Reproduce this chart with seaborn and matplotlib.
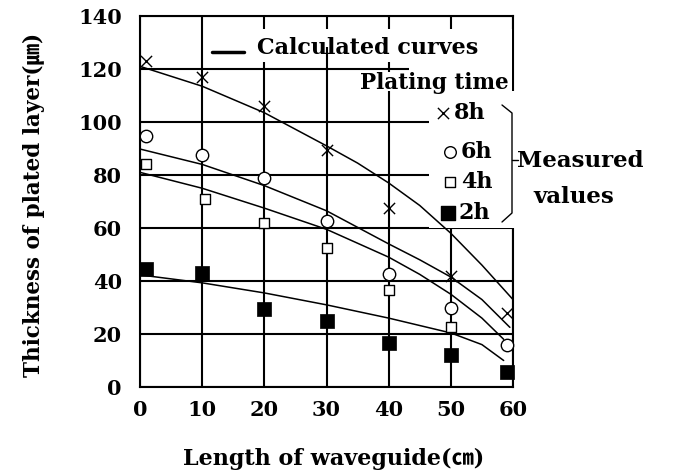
import numpy as np
import pandas as pd
import matplotlib
matplotlib.use("Agg")
import matplotlib.pyplot as plt
from matplotlib.patches import Rectangle
from matplotlib.lines import Line2D
import seaborn as sns

# ---------------- data ----------------
x_meas = [1, 10, 20, 30, 40, 50, 59]
meas_8h = [123, 117, 106, 89.5, 67.5, 42, 28]
meas_6h = [94.7, 87.5, 79, 62.6, 42.6, 30, 16]
x_meas_4h = [1, 10.5, 20, 30, 40, 50]
meas_4h = [84, 71, 62, 52.5, 36.6, 22.6]
meas_2h = [44.5, 43, 29.4, 25, 16.6, 12, 5.7]

x_calc_8h = [0, 10, 20, 30, 35, 40, 45, 50, 55, 60]
calc_8h = [121, 113.5, 103.5, 91, 84.5, 77, 68.5, 58, 46, 33]
x_calc_6h = [0, 10, 20, 30, 40, 45, 50, 55, 59.5]
calc_6h = [89.8, 84, 76, 66.5, 54, 48, 41.5, 33, 22.5]
x_calc_4h = [0, 10, 20, 30, 40, 45, 50, 55, 58.5]
calc_4h = [81, 75, 67.5, 59.5, 49, 42.5, 35, 26, 18]
x_calc_2h = [0, 10, 20, 30, 40, 50, 55, 58.5]
calc_2h = [42.3, 39.3, 35.5, 31, 26, 20.4, 16, 10]

x_ticks = [0, 10, 20, 30, 40, 50, 60]
y_ticks = [0, 20, 40, 60, 80, 100, 120, 140]
series_labels = ["8h", "6h", "4h", "2h"]

# ---------------- style ----------------
sns.set_style("white")
FAM = ["DejaVu Serif", "Noto Sans CJK SC", "DejaVu Sans"]
plt.rcParams["font.family"] = FAM
plt.rcParams["font.weight"] = "bold"
for k in ["text.color", "axes.labelcolor", "xtick.color", "ytick.color",
          "axes.edgecolor"]:
    plt.rcParams[k] = "black"

W, H = 676, 474
fig = plt.figure(figsize=(W / 100, H / 100), dpi=100)
ax = fig.add_axes([140 / W, 1 - 387 / H, 373 / W, 371 / H])

def fp(px, py):
    return (px / W, 1 - py / H)

def white_box(x0, y0, x1, y1):
    ax.add_patch(Rectangle((x0 / W, 1 - y1 / H), (x1 - x0) / W, (y1 - y0) / H,
                           transform=fig.transFigure, facecolor="white",
                           edgecolor="none", zorder=3, clip_on=False))

# calculated curves
calc = pd.concat([
    pd.DataFrame({"x": x_calc_8h, "y": calc_8h, "s": "8h"}),
    pd.DataFrame({"x": x_calc_6h, "y": calc_6h, "s": "6h"}),
    pd.DataFrame({"x": x_calc_4h, "y": calc_4h, "s": "4h"}),
    pd.DataFrame({"x": x_calc_2h, "y": calc_2h, "s": "2h"}),
])
sns.lineplot(data=calc, x="x", y="y", units="s", estimator=None, color="black",
             lw=1.1, ax=ax, zorder=4, legend=False, sort=False)

# measured points
m8 = pd.DataFrame({"x": x_meas, "y": meas_8h})
m6 = pd.DataFrame({"x": x_meas, "y": meas_6h})
m4 = pd.DataFrame({"x": x_meas_4h, "y": meas_4h})
m2 = pd.DataFrame({"x": x_meas, "y": meas_2h})
sns.scatterplot(data=m8, x="x", y="y", marker="x", s=65, color="black",
                linewidth=1.0, ax=ax, zorder=5, clip_on=False)
sns.scatterplot(data=m6, x="x", y="y", marker="o", s=80, facecolor="white",
                edgecolor="black", linewidth=1.0, ax=ax, zorder=5, clip_on=False)
sns.scatterplot(data=m4, x="x", y="y", marker="s", s=60, facecolor="white",
                edgecolor="black", linewidth=1.0, ax=ax, zorder=5, clip_on=False)
sns.scatterplot(data=m2, x="x", y="y", marker="s", s=90, color="black",
                edgecolor="black", linewidth=0.5, ax=ax, zorder=5, clip_on=False)

ax.set_xlim(0, 60)
ax.set_ylim(0, 140)
ax.set_xticks(x_ticks)
ax.set_yticks(y_ticks)
ax.set_axisbelow(True)
ax.grid(True, color="black", lw=1.5)
for sp in ax.spines.values():
    sp.set_color("black")
    sp.set_linewidth(1.5)
ax.tick_params(axis="both", length=0, labelsize=15, colors="black")
ax.tick_params(axis="y", pad=13)
ax.tick_params(axis="x", pad=9)
for lab in ax.get_xticklabels() + ax.get_yticklabels():
    lab.set_fontweight("bold")

ax.set_xlabel("Length of waveguide(㎝)", fontsize=16, fontweight="bold")
ax.set_ylabel("Thickness of plated layer(㎛)", fontsize=15.5, fontweight="bold")
ax.xaxis.set_label_coords(0.52, -0.165)
ax.yaxis.set_label_coords(-0.255, 0.49)

# white areas behind the legend texts (pixel boxes)
white_box(255, 29, 300, 62)
white_box(300, 29, 511.5, 47)
white_box(345, 47, 511.5, 62)
white_box(409, 62, 511.5, 72)
white_box(357, 72, 511.5, 91)
white_box(429, 91, 525, 228)

# legend: calculated curves
fig.add_artist(Line2D([212 / W, 244 / W], [1 - 52 / H, 1 - 52 / H],
                      color="black", lw=2.5))
fig.text(*fp(257, 48), "Calculated curves", fontsize=16, fontweight="bold",
         ha="left", va="center")
fig.text(*fp(360, 83), "Plating time", fontsize=15.5, fontweight="bold",
         ha="left", va="center", zorder=6)

legend_items = [
    (443, 113, "x", dict(c="black", linewidths=1.0), 65),
    (450, 152, "o", dict(facecolors="white", edgecolors="black", linewidths=1.0), 70),
    (450, 182, "s", dict(facecolors="white", edgecolors="black", linewidths=1.0), 60),
    (448, 213, "s", dict(c="black"), 90),
]
for (px, py, mk, kw, sz), lab in zip(legend_items, series_labels):
    fx, fy = fp(px, py)
    ax.scatter([fx], [fy], marker=mk, s=sz, transform=fig.transFigure,
               clip_on=False, zorder=7, **kw)
    fig.text(*fp(px + 11, py), lab, fontsize=16, fontweight="bold",
             ha="left", va="center", zorder=7)

# brace
bx = 512
fig.add_artist(Line2D([502 / W, bx / W, bx / W, 502 / W],
                      [1 - 105 / H, 1 - 113 / H, 1 - 213 / H, 1 - 222 / H],
                      color="black", lw=1.0))
fig.add_artist(Line2D([bx / W, 518 / W], [1 - 160 / H, 1 - 160 / H],
                      color="black", lw=1.0))
fig.text(*fp(517, 161), "Measured", fontsize=16.5, fontweight="bold",
         ha="left", va="center")
fig.text(*fp(533, 197), "values", fontsize=16.5, fontweight="bold",
         ha="left", va="center")

fig.savefig("out.png", dpi=100)
